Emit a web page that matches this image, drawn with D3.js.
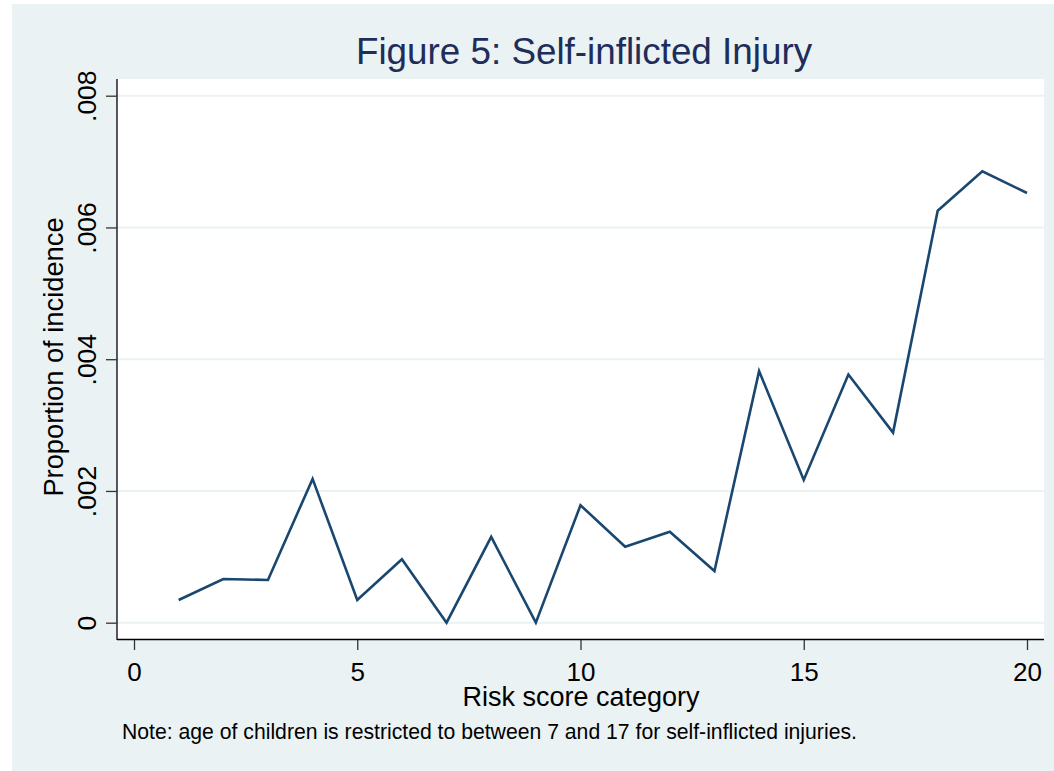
<!DOCTYPE html>
<html>
<head>
<meta charset="utf-8">
<script src="https://cdn.jsdelivr.net/npm/d3@7"></script>
<style>
  html, body { margin: 0; padding: 0; background: #ffffff; }
  svg { display: block; }
  text { font-family: "Liberation Sans", Arial, Helvetica, sans-serif; }
</style>
</head>
<body>
<svg id="chart" width="1054" height="771"></svg>
<script>
// Risk score categories and the share of children with a self-inflicted injury
const categories = [1, 2, 3, 4, 5, 6, 7, 8, 9, 10, 11, 12, 13, 14, 15, 16, 17, 18, 19, 20];
const incidence = [0.000345, 0.000664, 0.000649, 0.002183, 0.000345, 0.000963, 0.0000, 0.001302, 0.0000, 0.001783,
                   0.001154, 0.001382, 0.000785, 0.003819, 0.002168, 0.003767, 0.002886, 0.006254, 0.006851, 0.006523];

const xTicks = [0, 5, 10, 15, 20];
const yTicks = [0, 0.002, 0.004, 0.006, 0.008];
const yTickLabels = ["0", ".002", ".004", ".006", ".008"];

const titleText = "Figure 5: Self-inflicted Injury";
const xTitle = "Risk score category";
const yTitle = "Proportion of incidence";
const noteText = "Note: age of children is restricted to between 7 and 17 for self-inflicted injuries.";

const svg = d3.select("#chart");

// graph region and plot region
const outer = { x0: 12, y0: 4, x1: 1054, y1: 771 };
const plot = { x0: 117, y0: 79, x1: 1044, y1: 640 };

const x = d3.scaleLinear().domain([0, 20]).range([134, 1027]);
const y = d3.scaleLinear().domain([0, 0.008]).range([622.7, 95.7]);

const bg = "#EAF2F3";
const navy = "#1A476F";

svg.append("rect")
  .attr("x", outer.x0).attr("y", outer.y0)
  .attr("width", outer.x1 - outer.x0).attr("height", outer.y1 - outer.y0)
  .attr("fill", bg);

svg.append("rect")
  .attr("x", plot.x0).attr("y", plot.y0)
  .attr("width", plot.x1 - plot.x0).attr("height", plot.y1 - plot.y0)
  .attr("fill", "#ffffff");

// horizontal grid lines
svg.append("g")
  .selectAll("line")
  .data(yTicks)
  .join("line")
  .attr("x1", plot.x0).attr("x2", plot.x1)
  .attr("y1", d => y(d)).attr("y2", d => y(d))
  .attr("stroke", bg)
  .attr("stroke-width", 2);

// axis lines
svg.append("line")
  .attr("x1", plot.x0).attr("x2", plot.x0)
  .attr("y1", plot.y0).attr("y2", plot.y1)
  .attr("stroke", "#000").attr("stroke-width", 1.3);
svg.append("line")
  .attr("x1", plot.x0).attr("x2", plot.x1)
  .attr("y1", plot.y1 - 0.5).attr("y2", plot.y1 - 0.5)
  .attr("stroke", "#000").attr("stroke-width", 1.3);

// x axis ticks and labels
const xAxis = d3.axisBottom(x)
  .tickValues(xTicks)
  .tickSize(10)
  .tickPadding(0)
  .tickFormat(d3.format("d"));

const gx = svg.append("g")
  .attr("transform", `translate(0,${plot.y1})`)
  .call(xAxis);
gx.select(".domain").remove();
gx.selectAll(".tick line").attr("stroke", "#333").attr("stroke-width", 1.3);
gx.selectAll(".tick text")
  .attr("y", 41)
  .attr("dy", null)
  .attr("fill", "#000")
  .style("font-size", "26px");

// y axis ticks and rotated labels
const yAxis = d3.axisLeft(y)
  .tickValues(yTicks)
  .tickSize(11)
  .tickPadding(0)
  .tickFormat((d, i) => yTickLabels[i]);

const gy = svg.append("g")
  .attr("transform", `translate(${plot.x0},0)`)
  .call(yAxis);
gy.select(".domain").remove();
gy.selectAll(".tick line").attr("stroke", "#333").attr("stroke-width", 1.3);
gy.selectAll(".tick text")
  .attr("transform", "rotate(-90)")
  .attr("x", 0)
  .attr("y", -21)
  .attr("dy", null)
  .attr("text-anchor", "middle")
  .attr("fill", "#000")
  .style("font-size", "26.5px");

// incidence line
const line = d3.line()
  .x((d, i) => x(categories[i]))
  .y(d => y(d));

svg.append("path")
  .datum(incidence)
  .attr("d", line)
  .attr("fill", "none")
  .attr("stroke", navy)
  .attr("stroke-width", 2.6)
  .attr("stroke-linejoin", "miter");

// titles
svg.append("text")
  .attr("x", 584).attr("y", 64)
  .attr("text-anchor", "middle")
  .attr("fill", "#1E2D5A")
  .style("font-size", "36.8px")
  .text(titleText);

svg.append("text")
  .attr("x", 581).attr("y", 706)
  .attr("text-anchor", "middle")
  .attr("fill", "#000")
  .style("font-size", "27px")
  .text(xTitle);

svg.append("text")
  .attr("transform", "translate(63,357) rotate(-90)")
  .attr("text-anchor", "middle")
  .attr("fill", "#000")
  .style("font-size", "27.3px")
  .text(yTitle);

svg.append("text")
  .attr("x", 122).attr("y", 739)
  .attr("fill", "#000")
  .style("font-size", "21.2px")
  .text(noteText);
</script>
</body>
</html>
